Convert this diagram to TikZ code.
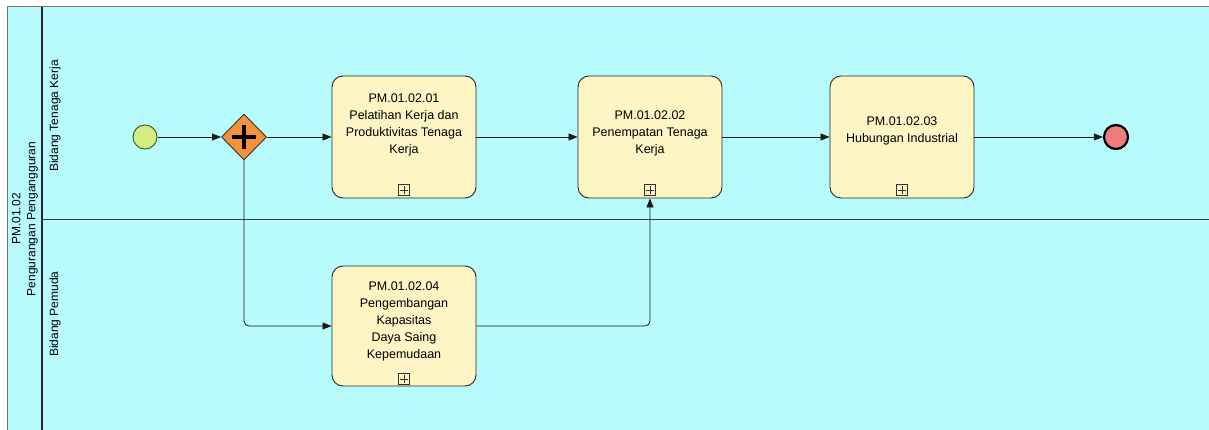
\documentclass[tikz,border=0pt]{standalone}
\usepackage{fontspec}
\setmainfont{Liberation Sans}
\usetikzlibrary{shapes.geometric,arrows.meta}
\definecolor{poolbg}{HTML}{B8FBFD}
\definecolor{taskfill}{HTML}{FDF6C4}
\definecolor{startfill}{HTML}{D4EC80}
\definecolor{startdraw}{HTML}{3C6E20}
\definecolor{gwfill}{HTML}{F4923C}
\definecolor{endfill}{HTML}{EE7C7C}
\definecolor{bordergray}{HTML}{707070}
\tikzset{
  taskbox/.style={draw=black!85, line width=0.9pt, fill=taskfill, rounded corners=11pt, minimum width=144pt, inner sep=0pt},
  tasktext/.style={align=center, font=\fontsize{12.5}{17}\selectfont, inner sep=0pt},
  lanetext/.style={rotate=90, font=\fontsize{12}{15}\selectfont, inner sep=0pt, align=center},
  marker/.style={draw=black!80, line width=0.8pt, fill=taskfill, minimum size=11pt, inner sep=0pt},
  flow/.style={draw=black!90, line width=0.8pt, -{Triangle[length=9pt,width=7pt]}},
}
\begin{document}
\begin{tikzpicture}[x=1pt,y=-1pt]
\useasboundingbox (0,0) rectangle (1209,430);
\fill[white] (0,0) rectangle (1209,430);
% pool
\fill[poolbg] (7,7) rectangle (1209,430);
\draw[bordergray, line width=1pt] (7,430) -- (7,7) -- (1209,7);
\draw[black!85, line width=2pt] (42,7) -- (42,430);
\draw[black!75, line width=1pt] (42,220) -- (1209,220);
% labels
\node[lanetext] (poollabel) at (25,219) {PM.01.02\\Pengurangan Pengangguran};
\node[lanetext] (lane1) at (55,116) {Bidang Tenaga Kerja};
\node[lanetext] (lane2) at (55,314) {Bidang Pemuda};
% events and gateway
\node[circle, draw=startdraw, line width=1pt, fill=startfill, minimum size=24pt, inner sep=0pt] (start) at (145,137) {};
\node[diamond, draw=black!80, line width=0.9pt, fill=gwfill, minimum width=45pt, minimum height=46pt, inner sep=0pt] (gw) at (244,137) {};
\draw[black, line width=4.2pt] (232,137) -- (256,137) (244,125) -- (244,149);
\node[circle, draw=black, line width=2.2pt, fill=endfill, minimum size=24pt, inner sep=0pt] (end) at (1116,137) {};
% tasks
\node[taskbox, minimum height=122pt] (t1) at (404,137) {};
\node[tasktext] (t1txt) at (404,125) {PM.01.02.01\\Pelatihan Kerja dan\\Produktivitas Tenaga\\Kerja};
\node[marker] (m1) at (404,190) {};
\node[taskbox, minimum height=122pt] (t2) at (650,137) {};
\node[tasktext] (t2txt) at (650,133) {PM.01.02.02\\Penempatan Tenaga\\Kerja};
\node[marker] (m2) at (650,190) {};
\node[taskbox, minimum height=122pt] (t3) at (902,137) {};
\node[tasktext] (t3txt) at (902,131) {PM.01.02.03\\Hubungan Industrial};
\node[marker] (m3) at (902,190) {};
\node[taskbox, minimum height=120pt] (t4) at (404,326) {};
\node[tasktext] (t4txt) at (404,321) {PM.01.02.04\\Pengembangan\\Kapasitas\\Daya Saing\\Kepemudaan};
\node[marker] (m4) at (404,379) {};
\foreach \m in {m1,m2,m3,m4}{
  \draw[black!80, line width=0.8pt] ([xshift=-4pt]\m.center) -- ([xshift=4pt]\m.center) ([yshift=-4pt]\m.center) -- ([yshift=4pt]\m.center);
}
% flows
\draw[flow] (start) -- (gw.west);
\draw[flow] (gw.east) -- (t1.west);
\draw[flow] (t1.east) -- (t2.west);
\draw[flow] (t2.east) -- (t3.west);
\draw[flow] (t3.east) -- (end.west);
\draw[flow, rounded corners=5pt] (gw.south) |- (t4.west);
\draw[flow, rounded corners=5pt] (t4.east) -| (t2.south);
\end{tikzpicture}
\end{document}
